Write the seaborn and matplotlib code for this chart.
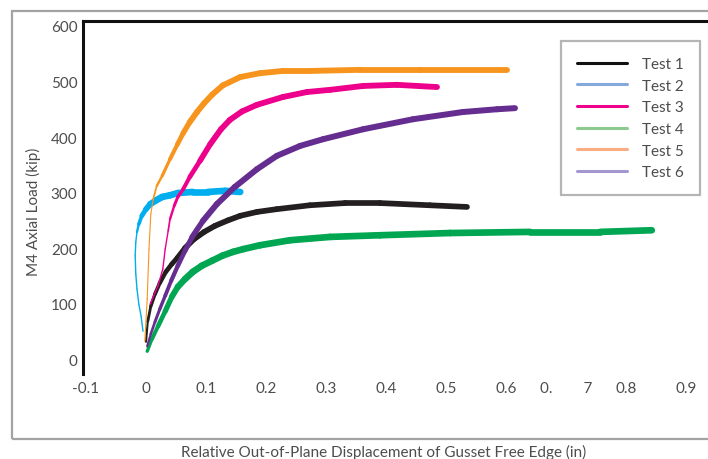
import numpy as np
import pandas as pd
import seaborn as sns
import matplotlib.pyplot as plt
from matplotlib.lines import Line2D
from matplotlib.patches import Rectangle

# displacement (in) / axial load (kip)
test1_x = [0.000, 0.003, 0.008, 0.015, 0.023, 0.033, 0.043, 0.052, 0.065, 0.080, 0.097, 0.115, 0.137,
           0.157, 0.185, 0.218, 0.273, 0.332, 0.390, 0.473, 0.535]
test1_y = [31, 68, 95, 117, 137, 157, 171, 182, 200, 216, 229, 240, 250,
           258, 265, 270, 277, 281, 281, 277, 274]

test2_x = [-0.005, -0.008, -0.012, -0.015, -0.017, -0.018, -0.017, -0.015, -0.012, -0.007, 0.000,
           0.007, 0.017, 0.027, 0.040, 0.053, 0.078, 0.103, 0.132, 0.157]
test2_y = [50, 76, 99, 126, 153, 186, 211, 229, 243, 258, 270,
           279, 286, 292, 295, 299, 301, 301, 303, 301]

test3_x = [0.007, 0.012, 0.020, 0.028, 0.032, 0.037, 0.040, 0.047, 0.053, 0.062, 0.073, 0.090, 0.107,
           0.125, 0.140, 0.160, 0.185, 0.228, 0.268, 0.307, 0.362, 0.418, 0.485]
test3_y = [99, 112, 132, 162, 198, 231, 252, 276, 292, 306, 328, 357, 387,
           414, 431, 446, 458, 472, 481, 485, 492, 494, 490]

test4_x = [0.002, 0.010, 0.020, 0.032, 0.043, 0.053, 0.065, 0.078, 0.093, 0.110, 0.127, 0.145, 0.162,
           0.190, 0.240, 0.307, 0.390, 0.507, 0.640, 0.757, 0.843]
test4_y = [14, 36, 59, 86, 112, 130, 144, 157, 168, 177, 186, 193, 198,
           205, 214, 220, 223, 227, 229, 229, 232]

test5_x = [-0.002, 0.002, 0.005, 0.008, 0.012, 0.018, 0.027, 0.040, 0.052, 0.062, 0.073, 0.085, 0.097,
           0.110, 0.128, 0.157, 0.190, 0.228, 0.273, 0.357, 0.457, 0.602]
test5_y = [32, 108, 198, 261, 288, 312, 330, 360, 386, 407, 427, 445, 461,
           476, 493, 508, 515, 519, 519, 521, 521, 521]

test6_x = [0.002, 0.008, 0.015, 0.023, 0.032, 0.042, 0.053, 0.065, 0.077, 0.095, 0.118, 0.148, 0.185,
           0.218, 0.257, 0.295, 0.362, 0.445, 0.528, 0.585, 0.615]
test6_y = [23, 45, 67, 90, 114, 141, 168, 195, 220, 249, 279, 310, 342,
           366, 384, 396, 414, 432, 445, 450, 452]

labels = ['Test 1', 'Test 2', 'Test 3', 'Test 4', 'Test 5', 'Test 6']
xticks = [-0.1, 0, 0.1, 0.2, 0.3, 0.4, 0.5, 0.6, 0.7, 0.8, 0.9]
xtick_labels = ['-0.1', '0', '0.1', '0.2', '0.3', '0.4', '0.5', '0.6', '0.        7', '0.8', '0.9']
yticks = [0, 100, 200, 300, 400, 500, 600]

line_colors = ['#231f20', '#00aeef', '#ec008c', '#00a651', '#f7941d', '#662d91']
legend_colors = ['#111111', '#85a9db', '#ec008c', '#8cc98e', '#f9ad81', '#a497cf']
# line width grows with load: (load where thin, load where full, thin width, full width) in points
ramps = [(30, 210, 1.2, 4.1), (225, 285, 1.0, 4.8), (230, 380, 1.0, 4.2),
         (15, 150, 2.2, 4.8), (280, 430, 0.8, 4.2), (30, 260, 1.6, 4.3)]

frames = []
for i, (xs, ys) in enumerate([(test1_x, test1_y), (test2_x, test2_y), (test3_x, test3_y),
                             (test4_x, test4_y), (test5_x, test5_y), (test6_x, test6_y)]):
    frames.append(pd.DataFrame({'disp': xs, 'load': ys, 'test': labels[i]}))
data = pd.concat(frames, ignore_index=True)

sns.set_style('white')
plt.rcParams['font.family'] = ['Lato', 'DejaVu Sans']
text_color = '#4d4d4d'
fs = 11

fig = plt.figure(figsize=(7.08, 4.6), dpi=100)
fig.patches.append(Rectangle((12 / 708, 1 - 440 / 460), 1.0, (440 - 12) / 460,
                             transform=fig.transFigure, fill=False,
                             edgecolor='#a3a3a3', linewidth=1.6))
ax = fig.add_axes([83 / 708, 1 - 375 / 460, 625 / 708, 353 / 460])

for i, name in enumerate(labels):
    d = data[data['test'] == name].reset_index(drop=True)
    y0, y1, w0, w1 = ramps[i]
    mid = (d['load'].values[:-1] + d['load'].values[1:]) / 2
    widths = np.interp(mid, [y0, y1], [w0, w1])
    for k in range(len(d) - 1):
        seg = d.iloc[k:k + 2]
        sns.lineplot(data=seg, x='disp', y='load', sort=False, estimator=None,
                     color=line_colors[i], linewidth=widths[k],
                     solid_capstyle='round', ax=ax)

ax.set_xlim(-0.105, 0.9367)
ax.set_ylim(-27, 609)
ax.set_xticks(xticks)
ax.set_xticklabels(xtick_labels)
ax.set_yticks(yticks)
ax.tick_params(axis='both', length=0, labelsize=fs, labelcolor=text_color)
ax.tick_params(axis='x', pad=5)
ax.tick_params(axis='y', pad=4)
ax.set_xlabel('')
ax.set_ylabel('')
for s in ['right', 'bottom']:
    ax.spines[s].set_visible(False)
for s in ['left', 'top']:
    ax.spines[s].set_color('#111111')
    ax.spines[s].set_linewidth(2.2)

handles = [Line2D([0], [0], color=c, linewidth=2.2) for c in legend_colors]
leg = ax.legend(handles, labels, loc='upper left',
                bbox_to_anchor=(561 / 708, 1 - 42 / 460), bbox_transform=fig.transFigure,
                fancybox=False, frameon=True, fontsize=fs, labelcolor=text_color,
                handlelength=3.3, handletextpad=0.95, labelspacing=0.5,
                borderpad=1.05, borderaxespad=0)
leg.get_frame().set_edgecolor('#a3a3a3')
leg.get_frame().set_linewidth(1.6)

fig.text(33 / 708, 1 - 212 / 460, 'M4 Axial Load (kip)', rotation=90,
         ha='center', va='center', fontsize=fs, color=text_color)
fig.text(384 / 708, 1 - 452 / 460, 'Relative Out-of-Plane Displacement of Gusset Free Edge (in)',
         ha='center', va='center', fontsize=fs, color=text_color)

fig.savefig('out.png', dpi=100)
